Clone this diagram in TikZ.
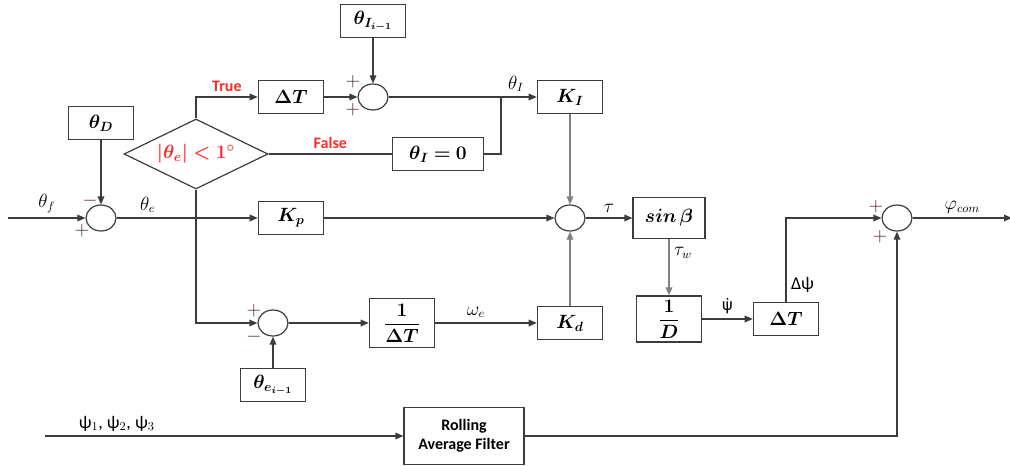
\documentclass[tikz,border=0pt]{standalone}
\usepackage{amsmath}
\usepackage{amssymb}
\usepackage{bm}
\usepackage{fontspec}
\setmainfont{Carlito}
\newfontfamily\dejavu{DejaVu Sans}
\usepackage{xcolor}
\usepackage{tikz}
\usetikzlibrary{arrows.meta, positioning}
\usetikzlibrary{shapes}
\definecolor{linegray}{HTML}{3C3C3C}
\definecolor{lightline}{HTML}{808080}
\definecolor{truered}{HTML}{FF2A2A}
\definecolor{signcol}{HTML}{4A1838}

\begin{document}
\begin{tikzpicture}[
    on grid,
    font=\fontsize{13.5}{15}\selectfont,
    block/.style={
        draw=linegray,
        line width=0.9pt,
        minimum width=49pt,
        minimum height=24.5pt,
        inner sep=1pt,
        font=\fontsize{14}{16}\selectfont},
    sumnode/.style={
        draw=linegray, ellipse,
        line width=0.9pt,
        minimum width=22.5pt,
        minimum height=19.5pt,
        inner sep=0pt},
    decision/.style={
        draw=linegray, diamond, aspect=2,
        line width=0.9pt,
        minimum width=108pt,
        minimum height=52.5pt,
        inner sep=0pt,
        text=truered,
        font=\fontsize{14}{16}\selectfont},
    conn/.style={draw=linegray, line width=0.9pt},
    connlight/.style={conn, draw=lightline},
    redlbl/.style={text=truered, font=\fontsize{12}{14}\selectfont\bfseries},
    sign/.style={text=signcol, inner sep=0pt},
    >={Triangle[length=6pt, width=5pt]}]
    \useasboundingbox (-75.75pt,163.5pt) rectangle (681.75pt,-185.25pt);

    % main line
    \node[sumnode] (sumD) at (0,0) {};
    \node[block, above=71.25pt of sumD] (thetaD) {$\bm{\theta_D}$};
    \node[block, right=142.5pt of sumD] (Kp) {$\bm{K_p}$};
    \node[sumnode, right=209.25pt of Kp] (sumM) {};
    \node[block, minimum width=54pt, minimum height=31pt, right=74.25pt of sumM] (sinb) {$\bm{sin\,\beta}$};
    \node[sumnode, right=171pt of sinb] (sumR) {};
    \coordinate[right=86.25pt of sumR] (phiout);
    \coordinate[left=69.75pt of sumD] (thetain);

    % integral branch
    \node[decision, above right=48pt and 71.25pt of sumD] (cond) {$\bm{|\theta_e| < 1^\circ}$};
    \node[block, above=90.75pt of Kp] (dTa) {$\bm{\Delta T}$};
    \node[sumnode, right=61.5pt of dTa] (sumI) {};
    \node[block, above=57pt of sumI] (thetaIprev) {$\bm{\theta_{I_{i-1}}}$};
    \node[block, above=90.75pt of sumM] (KI) {$\bm{K_I}$};
    \node[block, minimum width=68pt, right=181.5pt of cond] (thetaIzero) {$\bm{\theta_I = 0}$};
    \coordinate[right=96pt of sumI] (jI);

    % derivative branch
    \node[sumnode, below right=78.75pt and 129pt of sumD] (sumE) {};
    \node[block, below=46.5pt of sumE] (thetaEprev) {$\bm{\theta_{e_{i-1}}}$};
    \node[block, minimum height=37pt, right=96.75pt of sumE] (invdT) {$\dfrac{\bm{1}}{\bm{\Delta T}}$};
    \node[block, below=78.75pt of sumM] (Kd) {$\bm{K_d}$};
    \node[block, minimum height=34.5pt, below=75.75pt of sinb] (invD) {$\dfrac{\bm{1}}{\bm{D}}$};
    \node[block, right=87.75pt of invD] (dTb) {$\bm{\Delta T}$};

    % filter
    \node[block, minimum width=90pt, minimum height=43pt, align=center,
        font=\fontsize{12}{14}\selectfont\bfseries,
        below right=163.5pt and 272.25pt of sumD] (filter) {Rolling\\Average Filter};
    \coordinate[left=314.25pt of filter] (psiin);

    \draw[conn, ->] (thetain) -- node[above] {$\theta_f$} (sumD);
    \draw[conn, ->] (thetaD) -- (sumD);
    \draw[conn, ->] (sumD) -- node[above, pos=0.22] {$\theta_e$} (Kp);
    \draw[conn, ->] (cond.north) |- node[pos=0.75, above, redlbl] {True} (dTa);
    \draw[conn, ->] (dTa) -- (sumI);
    \draw[conn, ->] (thetaIprev) -- (sumI);
    \draw[conn, ->] (sumI) -- node[above, pos=0.86] {$\theta_I$} (KI);
    \draw[conn] (cond.east) -- node[above, redlbl] {False} (thetaIzero);
    \draw[conn] (thetaIzero.east) -| (jI);
    \draw[connlight, ->] (KI) -- (sumM);
    \draw[conn, ->] (Kp) -- (sumM);
    \draw[conn, ->] (sumM) -- node[above] {$\tau$} (sinb);
    \draw[connlight, ->] (sinb) -- node[right, pos=0.25] {$\tau_w$} (invD);
    \draw[conn, ->] (invD) -- node[above] {\dejavu\fontsize{12}{14}\selectfont ψ̇} (dTb);
    \draw[conn, ->] (dTb) |- node[right, pos=0.1] {Δψ} (sumR);
    \draw[conn, ->] (sumR) -- node[above] {$\varphi_{com}$} (phiout);
    \draw[conn, ->] (cond.south) |- (sumE);
    \draw[conn, ->] (thetaEprev) -- (sumE);
    \draw[conn, ->] (sumE) -- (invdT);
    \draw[conn, ->] (invdT) -- node[above, pos=0.4] {$\omega_e$} (Kd);
    \draw[connlight, ->] (Kd) -- (sumM);
    \draw[conn, ->] (psiin) -- node[above, pos=0.2] {ψ$_1$, ψ$_2$, ψ$_3$} (filter);
    \draw[conn, ->] (filter) -| (sumR);

    % signs
    \node[sign] at ([shift={(-8.25pt,12.75pt)}]sumD.center) {$-$};
    \node[sign] at ([shift={(-14.25pt,-9.75pt)}]sumD.center) {$+$};
    \node[sign] at ([shift={(-15pt,11.25pt)}]sumI.center) {$+$};
    \node[sign] at ([shift={(-15pt,-9.75pt)}]sumI.center) {$+$};
    \node[sign] at ([shift={(-14.25pt,9pt)}]sumE.center) {$+$};
    \node[sign] at ([shift={(-14.25pt,-10.5pt)}]sumE.center) {$-$};
    \node[sign] at ([shift={(-15.75pt,8.25pt)}]sumR.center) {$+$};
    \node[sign] at ([shift={(-12.75pt,-14.25pt)}]sumR.center) {$+$};
\end{tikzpicture}
\end{document}
